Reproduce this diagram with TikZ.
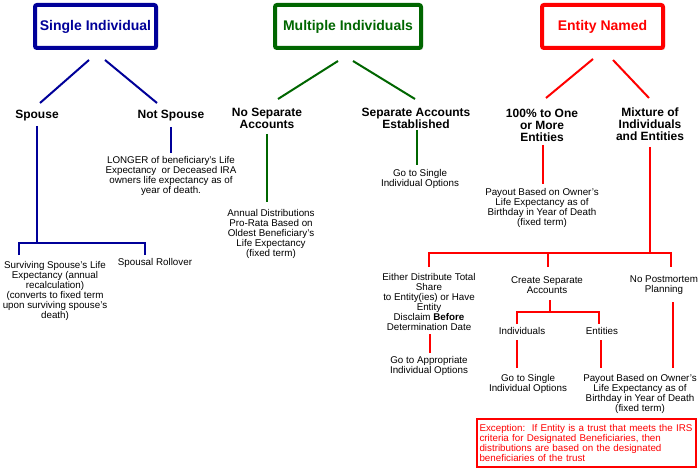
\documentclass[tikz,border=0pt]{standalone}
\usepackage{fontspec}
\setmainfont{Liberation Sans}
\usetikzlibrary{shadows}
\definecolor{cblue}{HTML}{000099}
\definecolor{cgreen}{HTML}{006600}
\definecolor{cred}{HTML}{FF0000}
\begin{document}
\begin{tikzpicture}[x=1pt,y=-1pt,
 topbox/.style={draw, fill=white, line width=4pt, rounded corners=2pt, minimum height=43pt, inner sep=0pt,
   font=\fontsize{14}{16}\selectfont\bfseries, drop shadow={shadow xshift=2pt,shadow yshift=-2pt,opacity=0.3}},
 head/.style={align=center, inner sep=0pt, font=\fontsize{12}{12}\selectfont\bfseries},
 small/.style={align=center, inner sep=0pt, font=\fontsize{9.8}{10}\selectfont},
 bl/.style={draw=cblue, line width=2pt},
 gl/.style={draw=cgreen, line width=2pt},
 rl/.style={draw=cred, line width=2pt},
]
\fill[white] (0,0) rectangle (700,470);
\useasboundingbox (0,0) rectangle (700,470);

% top boxes
\node[topbox, draw=cblue, text=cblue, minimum width=121pt] (si) at (95.5,26.5) {Single Individual};
\node[topbox, draw=cgreen, text=cgreen, minimum width=146pt] (mi) at (348,26.5) {Multiple Individuals};
\node[topbox, draw=cred, text=cred, minimum width=121pt] (en) at (602.5,26.5) {Entity Named};

% single individual branch
\node[head] (sp) at (37,116) {Spouse};
\node[head] (nsp) at (171,116) {Not Spouse};
\node[small] (nspt) at (171,176) {LONGER of beneficiary's Life\\Expectancy\ \ or Deceased IRA\\owners life expectancy as of\\year of death.};
\node[small] (ssle) at (55,291) {Surviving Spouse's Life\\Expectancy (annual\\recalculation)\\(converts to fixed term\\upon surviving spouse's\\death)};
\node[small] (sr) at (155,263) {Spousal Rollover};

\coordinate (si1) at (89,60); \coordinate (sp1) at (40,103);
\coordinate (si2) at (105,60); \coordinate (nsp1) at (157,103);
\draw[bl] (si1) -- (sp1);
\draw[bl] (si2) -- (nsp1);
\coordinate (spa) at (37,126); \coordinate (spb) at (37,243);
\coordinate (ssa) at (19,255); \coordinate (sra) at (145,255);
\draw[bl] (spa) -- (spb);
\draw[bl] (ssa) |- (spb) -| (sra);
\coordinate (nspa) at (171,127); \coordinate (nspb) at (171,153);
\draw[bl] (nspa) -- (nspb);

% multiple individuals branch
\node[head] (nsa) at (267,118) {No Separate\\Accounts};
\node[small] (ad) at (271,234) {Annual Distributions\\Pro-Rata Based on\\Oldest Beneficiary's\\Life Expectancy\\(fixed term)};
\node[head] (sae) at (416,118) {Separate Accounts\\Established};
\node[small] (gsi1) at (420,179) {Go to Single\\Individual Options};

\coordinate (mi1) at (338,61); \coordinate (nsa1) at (278,99);
\coordinate (mi2) at (353,61); \coordinate (sae1) at (415,99);
\draw[gl] (mi1) -- (nsa1);
\draw[gl] (mi2) -- (sae1);
\coordinate (nsaa) at (267,134); \coordinate (nsab) at (267,202);
\draw[gl] (nsaa) -- (nsab);
\coordinate (saea) at (417,130); \coordinate (saeb) at (417,165);
\draw[gl] (saea) -- (saeb);

% entity branch
\node[head] (one) at (542,125) {100\% to One\\or More\\Entities};
\node[small] (pay1) at (542,208) {Payout Based on Owner's\\Life Expectancy as of\\Birthday in Year of Death\\(fixed term)};
\node[head] (mix) at (650,124) {Mixture of\\Individuals\\and Entities};

\coordinate (en1) at (593,59); \coordinate (one1) at (546,98);
\coordinate (en2) at (613,60); \coordinate (mix1) at (649,98);
\draw[rl] (en1) -- (one1);
\draw[rl] (en2) -- (mix1);
\coordinate (onea) at (543,145); \coordinate (oneb) at (543,184);
\draw[rl] (onea) -- (oneb);

\node[small] (eith) at (429,302) {Either Distribute Total\\Share\\to Entity(ies) or Have\\Entity\\Disclaim \textbf{Before}\\Determination Date};
\node[small] (gai) at (429,366) {Go to Appropriate\\Individual Options};
\node[small] (csa) at (547,285) {Create Separate\\Accounts};
\node[small] (ind) at (522,331) {Individuals};
\node[small] (ent) at (602,331) {Entities};
\node[small] (gsi2) at (528,384) {Go to Single\\Individual Options};
\node[small] (npp) at (664,285) {No Postmortem\\Planning};
\node[small] (pay2) at (640,394) {Payout Based on Owner's\\Life Expectancy as of\\Birthday in Year of Death\\(fixed term)};

\coordinate (mixa) at (650,147); \coordinate (mixb) at (650,253);
\coordinate (eitha) at (429,267); \coordinate (csab) at (548,267); \coordinate (nppb) at (671,267);
\draw[rl] (mixa) -- (mixb);
\draw[rl] (eitha) |- (mixb) -| (nppb);
\draw[rl] (csab) -- (csab |- mixb);
\coordinate (eithb) at (430,334); \coordinate (gaia) at (430,353);
\draw[rl] (eithb) -- (gaia);
\coordinate (csaa) at (550,300); \coordinate (csac) at (550,312);
\coordinate (inda) at (517,324); \coordinate (enta) at (599,324);
\draw[rl] (csaa) -- (csac);
\draw[rl] (inda) |- (csac) -| (enta);
\coordinate (indb) at (517,340); \coordinate (gsia) at (517,368);
\draw[rl] (indb) -- (gsia);
\coordinate (entb) at (601,340); \coordinate (paya) at (601,368);
\draw[rl] (entb) -- (paya);
\coordinate (nppa) at (673,302); \coordinate (pay2a) at (673,368);
\draw[rl] (nppa) -- (pay2a);

% exception box
\node[draw=cred, line width=2pt, text=cred, minimum width=219pt, minimum height=48pt, inner xsep=2.5pt, inner ysep=0pt,
  text width=214pt, align=left, font=\fontsize{9.8}{10}\selectfont] (exc) at (586.5,443)
  {Exception:\ \ If Entity is a trust that meets the IRS\\criteria for Designated Beneficiaries, then\\distributions are based on the designated\\beneficiaries of the trust};
\end{tikzpicture}
\end{document}
